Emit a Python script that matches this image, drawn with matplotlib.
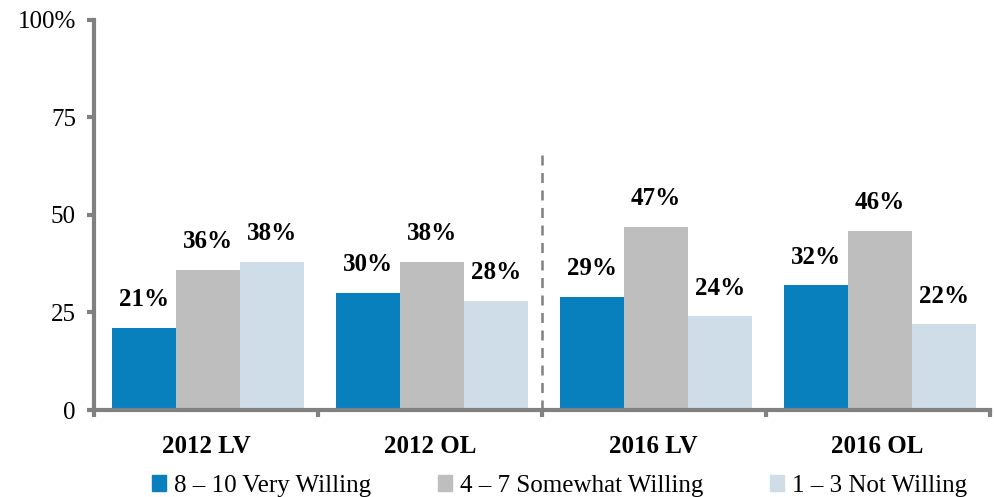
import numpy as np
import matplotlib
matplotlib.use("Agg")
import matplotlib.pyplot as plt
from matplotlib.patches import Patch

plt.rcParams['font.family'] = ['Liberation Serif', 'DejaVu Serif']

groups = ["2012 LV", "2012 OL", "2016 LV", "2016 OL"]
series_names = ["8 – 10 Very Willing", "4 – 7 Somewhat Willing", "1 – 3 Not Willing"]
very_willing = [21, 30, 29, 32]
somewhat_willing = [36, 38, 47, 46]
not_willing = [38, 28, 24, 22]
colors = ["#0880be", "#bebebe", "#cfdde8"]

fig = plt.figure(figsize=(9.94, 4.97), dpi=100)
ax = fig.add_axes([0.0946, 0.175, 0.901, 0.785])

x = np.arange(len(groups))
width = 0.286
axis_col = "#808080"
for i, vals in enumerate([very_willing, somewhat_willing, not_willing]):
    pos = x + (i - 1) * width + 0.01
    bars = ax.bar(pos, vals, width, color=colors[i], label=series_names[i])
    for b, v in zip(bars, vals):
        ax.annotate(f"{v}%", (b.get_x() + b.get_width() / 2, v),
                    xytext=(0, 12), textcoords="offset points",
                    ha="center", va="bottom", fontsize=18, fontweight="bold")

ax.axvline(1.5, ymin=0, ymax=0.667, color=axis_col, linestyle=(0, (4, 3)), linewidth=1.8)

ax.set_xlim(-0.5, 3.5)
ax.set_ylim(0, 100)
ax.set_yticks([0, 25, 50, 75, 100])
ax.set_yticklabels(["0", "25", "50", "75", "100%"], fontsize=18)
ax.set_xticks(x)
ax.set_xticklabels(groups, fontsize=18, fontweight="bold")
ax.tick_params(axis="x", which="major", length=0, pad=18)
ax.set_xticks(np.arange(-0.5, 4.0, 1.0), minor=True)
ax.tick_params(axis="x", which="minor", length=5, width=3, color=axis_col)
ax.tick_params(axis="y", length=5, width=3, color=axis_col, pad=8)

for s in ["top", "right"]:
    ax.spines[s].set_visible(False)
for s in ["left", "bottom"]:
    ax.spines[s].set_color(axis_col)
    ax.spines[s].set_linewidth(3)

handles = [Patch(color=c) for c in colors]
fig.legend(handles, series_names, loc="lower center", ncol=3, frameon=False,
           fontsize=18, bbox_to_anchor=(0.563, -0.045), handlelength=0.55,
           handleheight=0.55, handletextpad=0.3, columnspacing=2.7)

fig.savefig("out.png", dpi=100)
